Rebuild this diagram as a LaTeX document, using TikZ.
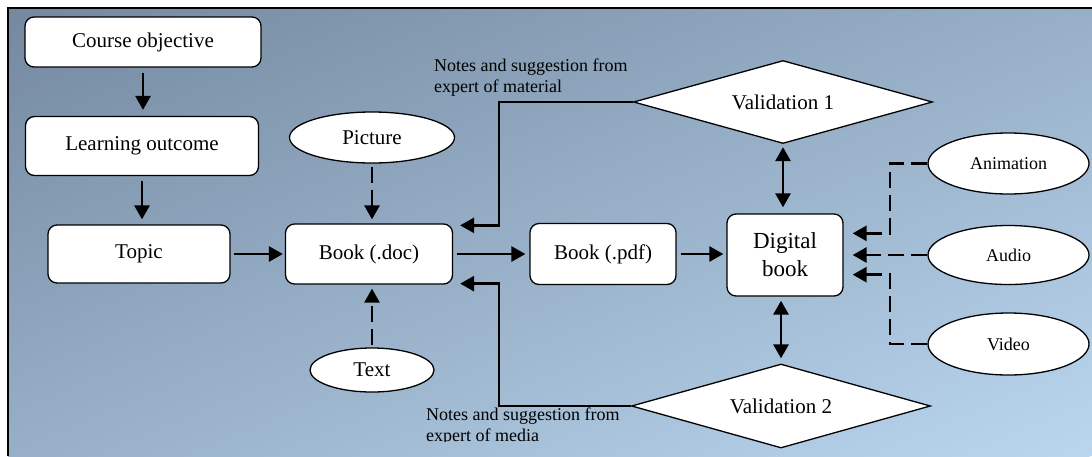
\documentclass[tikz,border=0pt]{standalone}
\usepackage{fontspec}
\setmainfont{Liberation Serif}
\usetikzlibrary{shapes.geometric,arrows.meta,calc}
\definecolor{bgA}{HTML}{7489A0}
\definecolor{bgB}{HTML}{BAD6EF}
\begin{document}
\begin{tikzpicture}[x=1pt,y=-1pt,
  box/.style={draw=black, line width=1.3pt, fill=white, rounded corners=9pt, inner sep=0pt, font=\fontsize{21}{25}\selectfont, align=center},
  oval/.style={ellipse, draw=black, line width=1.3pt, fill=white, inner sep=0pt, font=\fontsize{21}{25}\selectfont},
  dia/.style={diamond, draw=black, line width=1.3pt, fill=white, inner sep=0pt, aspect=3.6, font=\fontsize{21}{25}\selectfont},
  arr/.style={line width=2.8pt, -{Triangle[length=14pt,width=15pt]}},
  darr/.style={arr, dash pattern=on 16pt off 7pt},
  barr/.style={line width=2.8pt, {Triangle[length=14pt,width=15pt]}-{Triangle[length=14pt,width=15pt]}},
  note/.style={font=\fontsize{18}{21}\selectfont, align=left, inner sep=0pt, anchor=north west}
]
\useasboundingbox (0,0) rectangle (1092,456);
\fill[white] (0,0) rectangle (1092,456);
\begin{scope}
\clip (8,8) rectangle (1092,456);
\shade[top color=bgA, bottom color=bgB, transform canvas={rotate around={22.5:(550,232)}}] (-150,-182) rectangle (1250,646);
\end{scope}
\draw[line width=2.5pt] (8,456) -- (8,8) -- (1092,8);

\node[box, minimum width=236pt, minimum height=50pt] (course) at (143,42) {Course objective};
\node[box, minimum width=233pt, minimum height=59pt] (learn) at (142,146) {Learning outcome};
\node[box, minimum width=182pt, minimum height=58pt] (topic) at (139,254) {Topic};
\node[box, minimum width=167pt, minimum height=60pt] (doc) at (369,254) {Book (.doc)};
\node[box, minimum width=146pt, minimum height=61pt] (pdf) at (603,254) {Book (.pdf)};
\node[box, minimum width=116pt, minimum height=82pt, font=\fontsize{23}{28}\selectfont] (dig) at (785,255) {Digital\\book};
\node[oval, minimum width=165pt, minimum height=51pt] (pic) at (372,137.5) {Picture};
\node[oval, minimum width=124pt, minimum height=44pt] (txt) at (372,370) {Text};
\node[dia, minimum width=299pt, minimum height=83pt] (val1) at (783,102) {Validation 1};
\node[dia, minimum width=299pt, minimum height=84pt] (val2) at (781,406) {Validation 2};
\node[oval, minimum width=161pt, minimum height=61pt, font=\fontsize{18}{21}\selectfont] (anim) at (1008.5,163.5) {Animation};
\node[oval, minimum width=161pt, minimum height=59pt, font=\fontsize{18}{21}\selectfont] (audio) at (1008.5,255) {Audio};
\node[oval, minimum width=161pt, minimum height=62pt, font=\fontsize{18}{21}\selectfont] (video) at (1008.5,344) {Video};

\node[note] (n1) at (434,58.5) {Notes and suggestion from\\expert of material};
\begin{scope}
\clip (0,0) rectangle (1092,441);
\node[note] (n2) at (426,408) {Notes and suggestion from\\expert of media};
\end{scope}

\draw[arr, shorten <=5pt, shorten >=6pt] (course.south) -- (course.south |- learn.north);
\draw[arr, shorten <=5pt, shorten >=5pt] (learn.south) -- (learn.south |- topic.north);
\draw[arr, shorten <=3pt, shorten >=2pt] (topic.east) -- (doc.west);
\draw[darr, shorten <=3pt, shorten >=4pt] (pic.south) -- (pic.south |- doc.north);
\draw[darr, shorten <=2pt, shorten >=4pt] (txt.north) -- (txt.north |- doc.south);
\draw[arr, shorten <=4pt, shorten >=4pt] (doc.east) -- (doc.east -| pdf.west);
\draw[arr, shorten <=4pt, shorten >=3pt] (pdf.east) -- (pdf.east -| dig.west);
\draw[barr, shorten <=3pt, shorten >=6pt] (val1.south) -- (val1.south |- dig.north);
\draw[barr, shorten <=4pt, shorten >=5pt] (val2.north |- dig.south) -- (val2.north);

\coordinate (k1) at (499,0);
\coordinate (k2) at (890,0);
\coordinate (e1) at ([xshift=7pt,yshift=-2pt]doc.north east);
\coordinate (e2) at ([xshift=7pt,yshift=1pt]doc.south east);
\coordinate (e3) at ([xshift=9pt,yshift=-20pt]dig.north east);
\coordinate (e4) at ([xshift=9pt,yshift=22pt]dig.south east);
\draw[arr] (val1.west) -| (k1 |- e1) -- (e1);
\draw[arr] (val2.west) -| (k1 |- e2) -- (e2);
\draw[darr] (anim.west) -| (k2 |- e3) -- (e3);
\draw[darr, shorten >=9pt] (audio.west) -- (audio.west -| dig.east);
\draw[darr] (video.west) -| (k2 |- e4) -- (e4);
\end{tikzpicture}
\end{document}
